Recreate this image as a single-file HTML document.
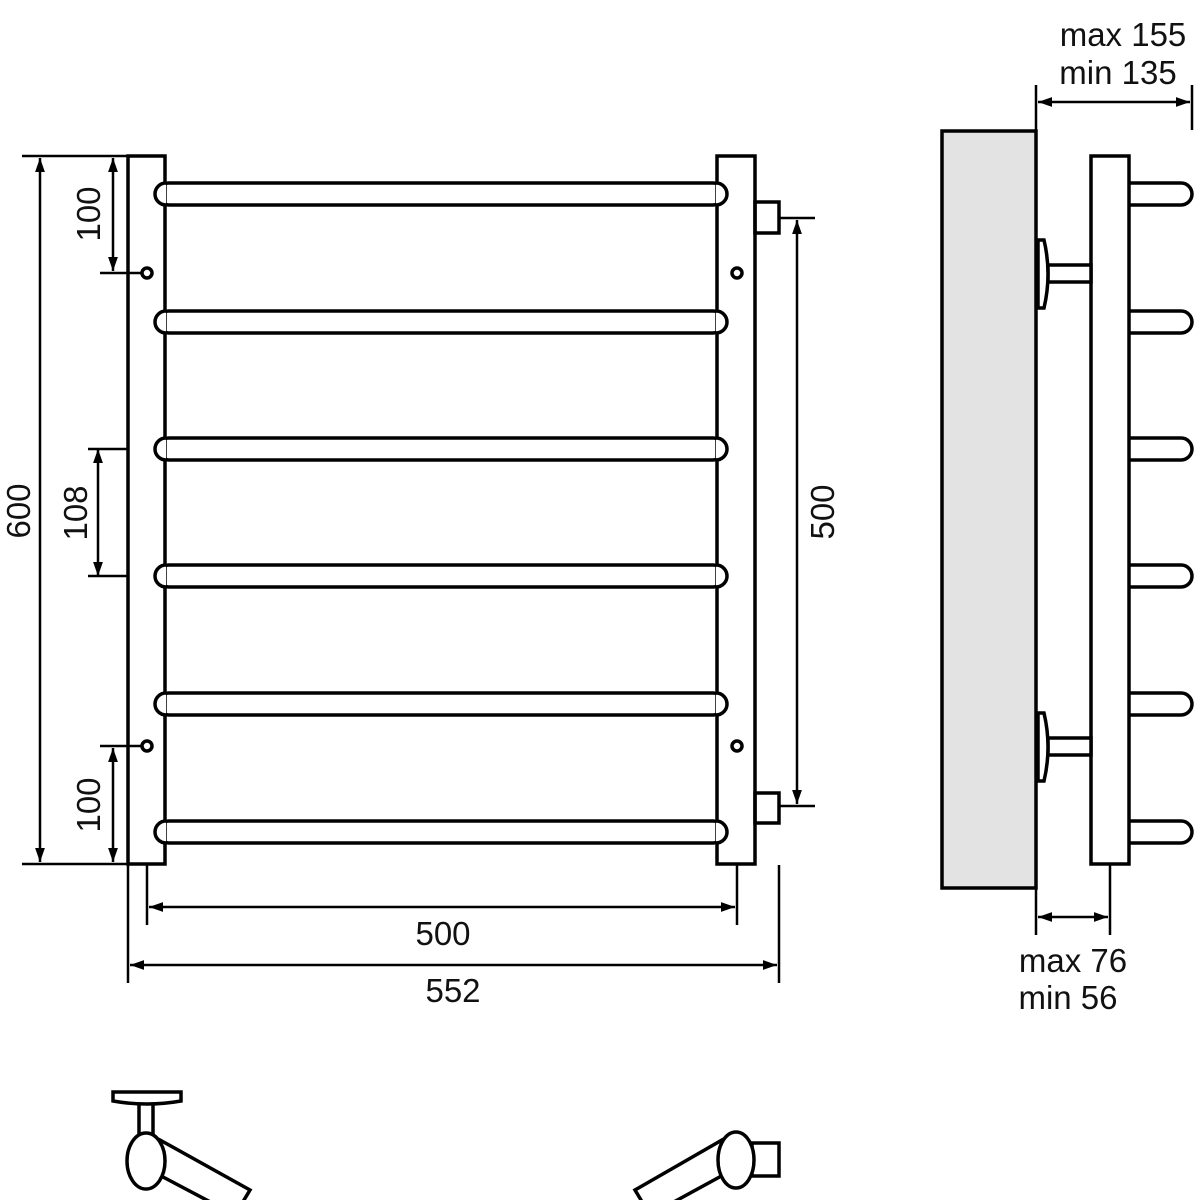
<!DOCTYPE html>
<html><head><meta charset="utf-8"><style>
html,body{margin:0;padding:0;background:#fff}
svg{display:block}
text{font-family:"Liberation Sans",Arial,sans-serif;font-size:33px;fill:#111}
</style></head><body>
<svg width="1200" height="1200" viewBox="0 0 1200 1200" xmlns="http://www.w3.org/2000/svg">
<defs>
<marker id="a" viewBox="0 0 10 10" refX="10" refY="5" markerWidth="14" markerHeight="14" markerUnits="userSpaceOnUse" orient="auto-start-reverse"><path d="M0,1.5 L10,5 L0,8.5 z" fill="#000"/></marker>
</defs>
<g fill="none" stroke="#000" stroke-width="3.5">
<g>
<rect x="158" y="183" width="566" height="22" rx="11"/>
<rect x="158" y="311" width="566" height="22" rx="11"/>
<rect x="158" y="438" width="566" height="22" rx="11"/>
<rect x="158" y="565" width="566" height="22" rx="11"/>
<rect x="158" y="693" width="566" height="22" rx="11"/>
<rect x="158" y="821" width="566" height="22" rx="11"/>
</g>
<rect x="128" y="156" width="37" height="708" fill="#fff"/>
<rect x="717" y="156" width="38" height="708" fill="#fff"/>
<circle cx="147" cy="273" r="5"/><circle cx="147" cy="746" r="5"/>
<circle cx="737" cy="273" r="5"/><circle cx="737" cy="746" r="5"/>
<rect x="755" y="202" width="24" height="31"/>
<rect x="755" y="793" width="24" height="30"/>
</g>
<g fill="#fff" stroke="#000" stroke-width="3.5">
<path d="M166,183 A11,11 0 0 0 166,205 M716,183 A11,11 0 0 1 716,205"/>
<path d="M166,311 A11,11 0 0 0 166,333 M716,311 A11,11 0 0 1 716,333"/>
<path d="M166,438 A11,11 0 0 0 166,460 M716,438 A11,11 0 0 1 716,460"/>
<path d="M166,565 A11,11 0 0 0 166,587 M716,565 A11,11 0 0 1 716,587"/>
<path d="M166,693 A11,11 0 0 0 166,715 M716,693 A11,11 0 0 1 716,715"/>
<path d="M166,821 A11,11 0 0 0 166,843 M716,821 A11,11 0 0 1 716,843"/>
</g>
<g fill="none" stroke="#000" stroke-width="2.5">
<line x1="22" y1="156" x2="128" y2="156"/><line x1="22" y1="864" x2="128" y2="864"/>
<line x1="40" y1="158" x2="40" y2="862" marker-start="url(#a)" marker-end="url(#a)"/>
<line x1="100" y1="273" x2="142" y2="273"/>
<line x1="113" y1="158" x2="113" y2="271" marker-start="url(#a)" marker-end="url(#a)"/>
<line x1="100" y1="746" x2="142" y2="746"/>
<line x1="113" y1="748" x2="113" y2="862" marker-start="url(#a)" marker-end="url(#a)"/>
<line x1="98" y1="449" x2="98" y2="576" marker-start="url(#a)" marker-end="url(#a)"/>
<line x1="88" y1="449" x2="128" y2="449"/><line x1="88" y1="576" x2="128" y2="576"/>
<line x1="779" y1="218" x2="815" y2="218"/><line x1="779" y1="806" x2="815" y2="806"/>
<line x1="797" y1="220" x2="797" y2="804" marker-start="url(#a)" marker-end="url(#a)"/>
<line x1="147" y1="864" x2="147" y2="925"/><line x1="737" y1="864" x2="737" y2="925"/>
<line x1="149" y1="907" x2="735" y2="907" marker-start="url(#a)" marker-end="url(#a)"/>
<line x1="128" y1="864" x2="128" y2="983"/><line x1="779" y1="865" x2="779" y2="983"/>
<line x1="130" y1="965" x2="777" y2="965" marker-start="url(#a)" marker-end="url(#a)"/>
<line x1="1036" y1="85" x2="1036" y2="131"/><line x1="1192" y1="85" x2="1192" y2="130"/>
<line x1="1038" y1="102" x2="1190" y2="102" marker-start="url(#a)" marker-end="url(#a)"/>
<line x1="1036" y1="888" x2="1036" y2="935"/><line x1="1110" y1="864" x2="1110" y2="935"/>
<line x1="1038" y1="917" x2="1108" y2="917" marker-start="url(#a)" marker-end="url(#a)"/>
</g>
<text x="18" y="511" text-anchor="middle" transform="rotate(-90 18 511)" dy="12">600</text>
<text x="88" y="214" text-anchor="middle" transform="rotate(-90 88 214)" dy="12">100</text>
<text x="88" y="805" text-anchor="middle" transform="rotate(-90 88 805)" dy="12">100</text>
<text x="75" y="513" text-anchor="middle" transform="rotate(-90 75 513)" dy="12">108</text>
<text x="822" y="512" text-anchor="middle" transform="rotate(-90 822 512)" dy="12">500</text>
<text x="443" y="945" text-anchor="middle">500</text>
<text x="453" y="1002" text-anchor="middle">552</text>
<text x="1123" y="46" text-anchor="middle">max 155</text>
<text x="1118" y="84" text-anchor="middle">min 135</text>
<text x="1073" y="972" text-anchor="middle">max 76</text>
<text x="1068" y="1009" text-anchor="middle">min 56</text>
<g stroke="#000" stroke-width="3.5">
<rect x="942" y="131" width="94" height="757" fill="#e3e3e3"/>
<g fill="#fff">
<rect x="1110" y="183" width="82" height="22" rx="11"/>
<rect x="1110" y="311" width="82" height="22" rx="11"/>
<rect x="1110" y="438" width="82" height="22" rx="11"/>
<rect x="1110" y="565" width="82" height="22" rx="11"/>
<rect x="1110" y="693" width="82" height="22" rx="11"/>
<rect x="1110" y="821" width="82" height="22" rx="11"/>
<rect x="1091" y="156" width="38" height="708"/>
<rect x="1048" y="265" width="43" height="17"/>
<rect x="1048" y="738" width="43" height="17"/>
<path d="M1038,240 L1044,240 Q1052,274 1044,308 L1038,308 Z"/>
<path d="M1038,713 L1044,713 Q1052,747 1044,781 L1038,781 Z"/>
</g>
</g>
<g stroke="#000" stroke-width="3.5" fill="#fff">
<path d="M146,1168 L235,1215 L250,1190 L160,1140 Z"/>
<path d="M736,1168 L650,1215 L635,1190 L722,1140 Z"/>
<rect x="139" y="1100" width="14" height="42"/>
<path d="M113,1092 L181,1092 L181,1101 Q147,1107 113,1101 Z"/>
<ellipse cx="146" cy="1161" rx="19" ry="28"/>
<rect x="752" y="1143" width="27" height="33"/>
<ellipse cx="736" cy="1160" rx="18" ry="28"/>
</g>
</svg>
</body></html>
